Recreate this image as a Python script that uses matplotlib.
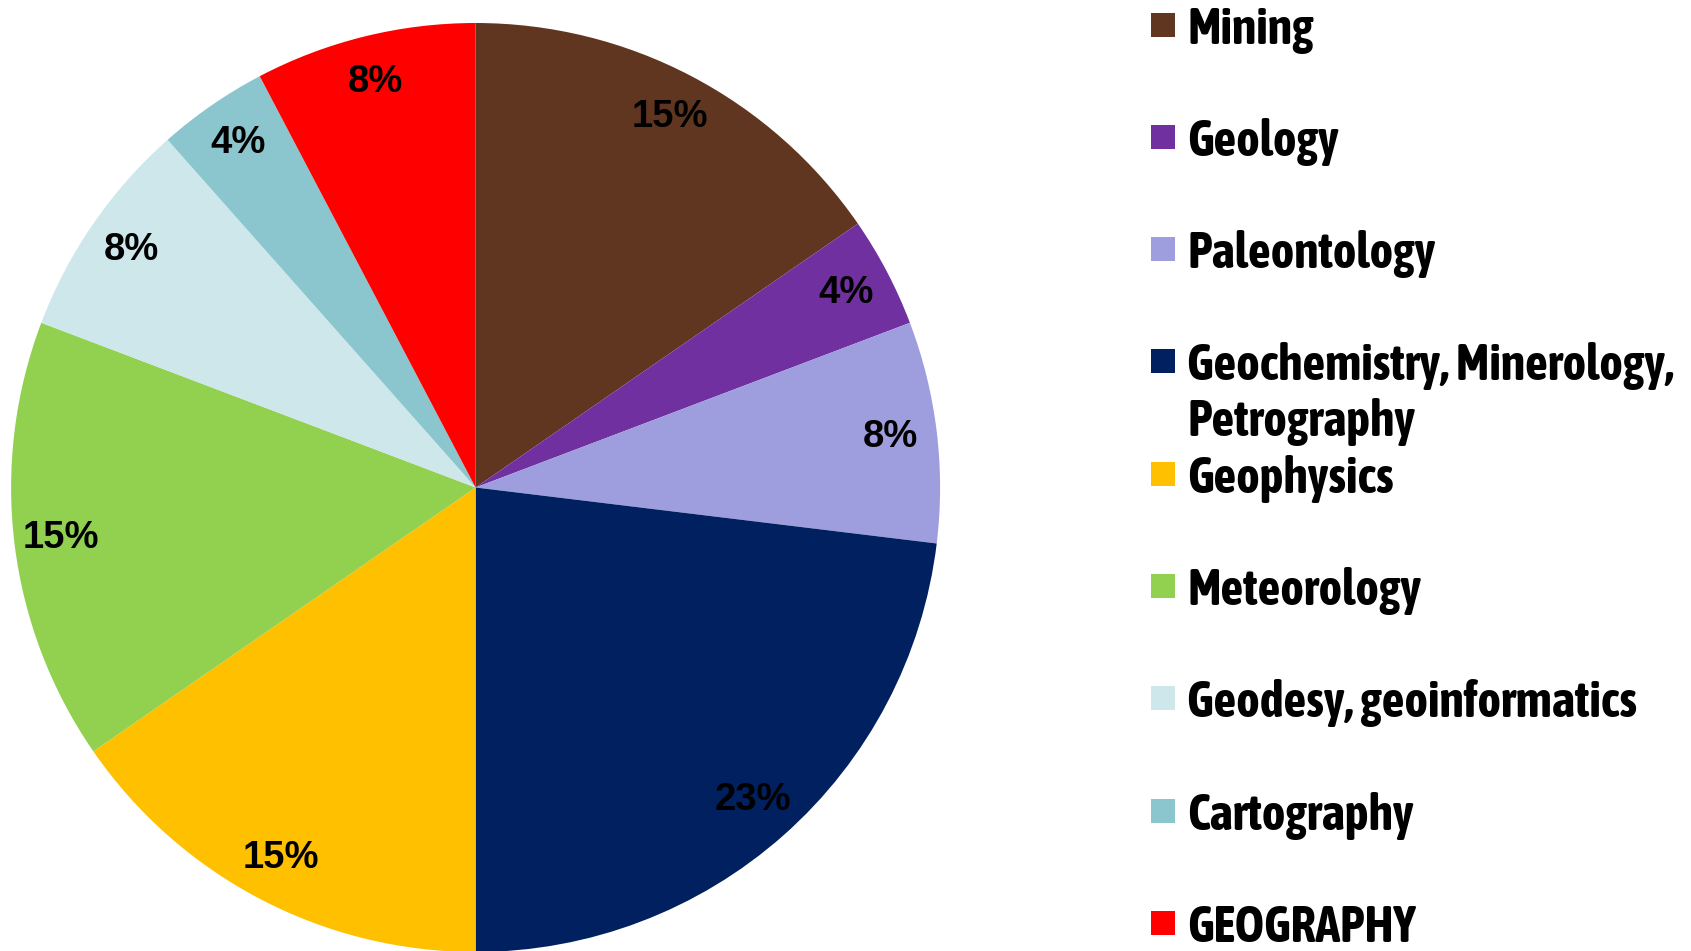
import matplotlib
matplotlib.use('Agg')
import matplotlib.pyplot as plt
from matplotlib.patches import Rectangle
from matplotlib import font_manager
from matplotlib.font_manager import FontProperties

categories = ['Mining', 'Geology', 'Paleontology',
              'Geochemistry, Minerology,\nPetrography', 'Geophysics',
              'Meteorology', 'Geodesy, geoinformatics', 'Cartography',
              'GEOGRAPHY']
counts = [4, 1, 2, 6, 4, 4, 2, 1, 2]
colors = ['#603621', '#7030A0', '#9E9EDE', '#002060', '#FFC000',
          '#92D050', '#CDE7EB', '#8BC6CE', '#FF0000']

W, H = 1691, 951

# look for a bold narrow/condensed face (Arial Narrow-like) for the legend
cands = []
for f in font_manager.fontManager.ttflist:
    nm = (f.name + ' ' + f.fname).lower()
    cond = ('narrow' in nm or 'condensed' in nm or
            str(f.stretch) in ('condensed', 'semi-condensed', 'extra-condensed'))
    bold = f.weight in ('bold', 700, 'heavy', 800) or 'bold' in f.fname.lower()
    if cond and bold:
        cands.append(f)
cands.sort(key=lambda f: ('liberation' not in f.fname.lower(), 'dejavu' in f.fname.lower()))
if cands:
    legend_fp = FontProperties(fname=cands[0].fname, size=34)
else:
    legend_fp = FontProperties(family='Liberation Sans', weight='bold', size=34)

fig = plt.figure(figsize=(W / 100, H / 100), dpi=100)

# pie centre ~ (475.6, 487.5) px, radius ~464.5 px
cx, cy, r = 475.6, 487.5, 464.5
ax = fig.add_axes([(cx - r) / W, (H - cy - r) / H, 2 * r / W, 2 * r / H])
wedges, _, autotexts = ax.pie(counts, colors=colors, startangle=90, counterclock=False,
                              autopct='%1.0f%%', pctdistance=0.9,
                              wedgeprops=dict(linewidth=0),
                              textprops=dict(fontsize=27.5, fontweight='bold',
                                             family='Liberation Sans', color='black'))
ax.set_xlim(-1, 1)
ax.set_ylim(-1, 1)
ax.set_aspect('equal')
ax.axis('off')

# legend, drawn by hand so the two-line entry keeps the regular slot spacing
y0, step = 24.5, 112.3
texts = []
for i, (name, col) in enumerate(zip(categories, colors)):
    y = y0 + i * step
    fig.patches.append(Rectangle((1151 / W, 1 - (y + 12) / H), 24 / W, 24 / H,
                                 transform=fig.transFigure, facecolor=col,
                                 edgecolor='none'))
    for j, line in enumerate(name.split('\n')):
        texts.append(fig.text(1187 / W, 1 - (y + j * 56) / H, line,
                              fontproperties=legend_fp, va='center_baseline', ha='left'))

# fit the widest legend line to ~490 px, like the reference
fig.canvas.draw()
rend = fig.canvas.get_renderer()
widest = max(t.get_window_extent(rend).width for t in texts)
size = min(36, 34 * 490 / widest)
for t in texts:
    t.set_fontsize(size)

fig.savefig('out.png', dpi=100)
